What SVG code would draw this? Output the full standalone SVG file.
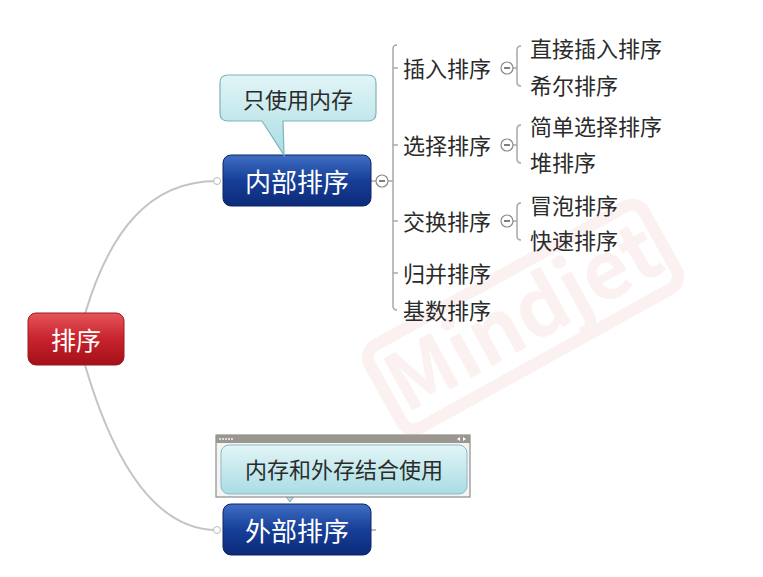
<svg xmlns="http://www.w3.org/2000/svg" width="763" height="577" viewBox="0 0 763 577">
<defs>
<linearGradient id="gRed" x1="0" y1="0" x2="0" y2="1"><stop offset="0" stop-color="#e5545a"/><stop offset="0.5" stop-color="#c8232c"/><stop offset="1" stop-color="#a3101a"/></linearGradient>
<linearGradient id="gBlue" x1="0" y1="0" x2="0" y2="1"><stop offset="0" stop-color="#3f6fc4"/><stop offset="0.5" stop-color="#173f98"/><stop offset="1" stop-color="#0c2a78"/></linearGradient>
<linearGradient id="gCy" x1="0" y1="0" x2="0" y2="1"><stop offset="0" stop-color="#e2f5f7"/><stop offset="1" stop-color="#a9dde3"/></linearGradient>
<style>
.t{font-family:"Noto Sans CJK SC","Noto Sans",sans-serif}
.w{fill:#fff;text-anchor:middle;dominant-baseline:central}
.k{fill:#2b2b2b;font-size:22px;dominant-baseline:central}
.c{fill:#2b2b2b;font-size:22px;text-anchor:middle;dominant-baseline:central}
.ln{fill:none;stroke:#a8a8a8;stroke-width:1.5}
.cur{fill:none;stroke:#c4c4c4;stroke-width:2}
.col{fill:#fff;stroke:#8a8a8a;stroke-width:1.2}
.mn{stroke:#555;stroke-width:1.5}
</style>
</defs>
<rect width="763" height="577" fill="#fff"/>
<g id="watermark" opacity="0.05" transform="rotate(-29 523 317)">
<rect x="366" y="270" width="314" height="94" rx="14" fill="none" stroke="#c00" stroke-width="12"/>
<text x="523" y="345" class="t" font-size="80" font-weight="bold" fill="#c00" text-anchor="middle">Mindjet</text>
</g>
<g id="connectors">
<path class="cur" d="M85,314 C110,230 150,181 217,181"/>
<path class="cur" d="M85,365 C110,450 150,530 217,530"/>
<circle cx="217" cy="181" r="3.5" fill="#fff" stroke="#bbb"/>
<circle cx="217" cy="530" r="3.5" fill="#fff" stroke="#bbb"/>
<line x1="371" y1="181" x2="376" y2="181" class="ln"/>
<line x1="388" y1="181" x2="393" y2="181" class="ln"/>
<path class="ln" d="M397,45 Q393,45 393,49 L393,306 Q393,310 397,310"/>
<line x1="393" y1="68" x2="398" y2="68" class="ln"/>
<line x1="393" y1="145" x2="398" y2="145" class="ln"/>
<line x1="393" y1="221" x2="398" y2="221" class="ln"/>
<line x1="393" y1="273" x2="398" y2="273" class="ln"/>
<path class="ln" d="M521,46 Q517,46 517,50 L517,82 Q517,86 521,86 M513,68 L517,68"/>
<path class="ln" d="M521,125 Q517,125 517,129 L517,159 Q517,163 521,163 M513,145 L517,145"/>
<path class="ln" d="M521,203 Q517,203 517,207 L517,236 Q517,240 521,240 M513,221 L517,221"/>
<line x1="371" y1="530" x2="376" y2="530" class="ln"/>
</g>
<g id="root">
<rect x="28" y="313" width="96" height="52" rx="8" fill="url(#gRed)" stroke="#9a1a20"/>
<text x="76" y="339" class="t w" font-size="25">排序</text>
</g>
<g id="node-neibu">
<rect x="223" y="155" width="148" height="51" rx="8" fill="url(#gBlue)" stroke="#0c2566"/>
<text x="297" y="180" class="t w" font-size="26">内部排序</text>
<circle cx="382" cy="181" r="6" class="col"/>
<line x1="379" y1="181" x2="385" y2="181" class="mn"/>
</g>
<g id="callout-neicun">
<path d="M228,75 L368,75 Q376,75 376,83 L376,113 Q376,121 368,121 L283,121 L284,155 L262,121 L228,121 Q220,121 220,113 L220,83 Q220,75 228,75 Z" fill="url(#gCy)" stroke="#7fb3ba" stroke-width="1.2"/>
<text x="298" y="98" class="t c">只使用内存</text>
</g>
<g id="node-charu">
<text x="403" y="67" class="t k">插入排序</text>
<circle cx="507" cy="68" r="6" class="col"/><line x1="504" y1="68" x2="510" y2="68" class="mn"/>
</g>
<g id="node-xuanze">
<text x="403" y="144" class="t k">选择排序</text>
<circle cx="507" cy="145" r="6" class="col"/><line x1="504" y1="145" x2="510" y2="145" class="mn"/>
</g>
<g id="node-jiaohuan">
<text x="403" y="220" class="t k">交换排序</text>
<circle cx="507" cy="221" r="6" class="col"/><line x1="504" y1="221" x2="510" y2="221" class="mn"/>
</g>
<g id="node-guibing"><text x="403" y="272" class="t k">归并排序</text></g>
<g id="node-jishu"><text x="403" y="309" class="t k">基数排序</text></g>
<g id="node-zhijie"><text x="530" y="47" class="t k">直接插入排序</text></g>
<g id="node-xier"><text x="530" y="84" class="t k">希尔排序</text></g>
<g id="node-jiandan"><text x="530" y="125" class="t k">简单选择排序</text></g>
<g id="node-dui"><text x="530" y="161" class="t k">堆排序</text></g>
<g id="node-maopao"><text x="530" y="204" class="t k">冒泡排序</text></g>
<g id="node-kuaisu"><text x="530" y="239" class="t k">快速排序</text></g>
<g id="node-waibu">
<rect x="223" y="504" width="148" height="51" rx="8" fill="url(#gBlue)" stroke="#0c2566"/>
<text x="297" y="529" class="t w" font-size="26">外部排序</text>
</g>
<g id="callout-waicun">
<path d="M284,494 L290,502 L296,494 Z" fill="#a9dde3" stroke="#8aa"/>
<rect x="216" y="435" width="254" height="62" fill="#f4f4f4" stroke="#8d8d8d" stroke-width="1.2"/>
<rect x="216" y="435" width="254" height="8" fill="#9a9690"/>
<g fill="#fff"><circle cx="220" cy="439" r="0.9"/><circle cx="223" cy="439" r="0.9"/><circle cx="226" cy="439" r="0.9"/><circle cx="229" cy="439" r="0.9"/><circle cx="232" cy="439" r="0.9"/></g>
<path d="M460,437 L457,439 L460,441 Z M463,437 L466,439 L463,441 Z" fill="#fff"/>
<rect x="221" y="445" width="246" height="49" rx="8" fill="url(#gCy)" stroke="#8fb9be" stroke-width="1"/>
<text x="344" y="468" class="t c">内存和外存结合使用</text>
</g>
</svg>
